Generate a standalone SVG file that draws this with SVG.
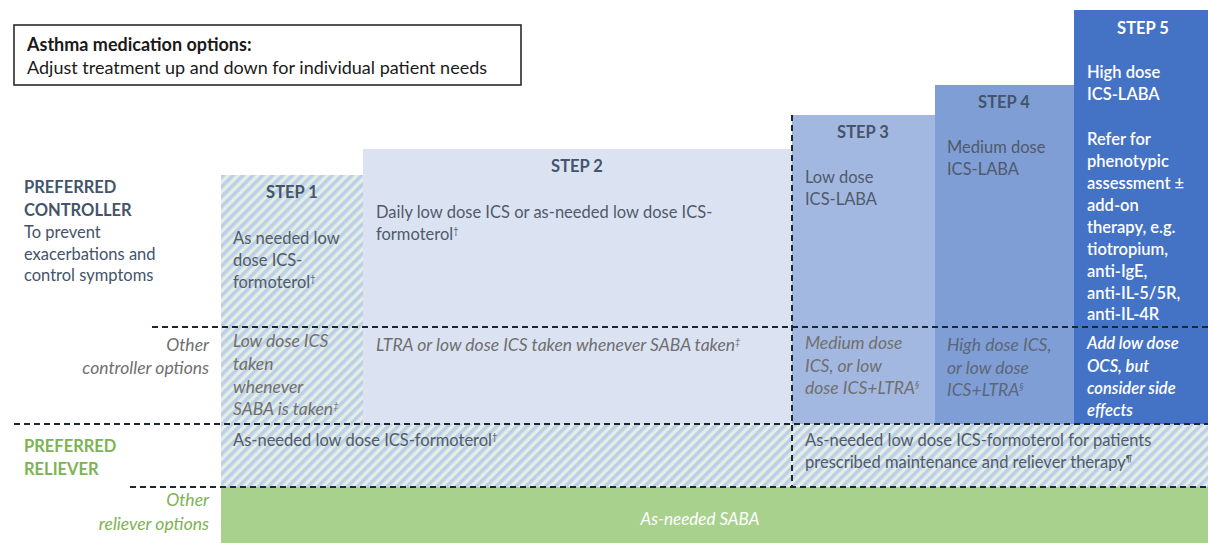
<svg xmlns="http://www.w3.org/2000/svg" width="1208" height="543" viewBox="0 0 1208 543">
<defs>
<pattern id="hatch" width="7" height="7" patternUnits="userSpaceOnUse" patternTransform="rotate(45)">
<rect width="7" height="7" fill="#e4eee2"/>
<rect width="3.6" height="7" fill="#bccfea"/>
</pattern>
</defs>
<style>
text{font-family:Lato,"Liberation Sans",sans-serif;font-size:16.5px;fill:#505a6a}
.b{font-weight:bold}
.h{font-weight:bold;fill:#44546a;text-anchor:middle}
.i{font-style:italic;fill:#6f6f6f;font-size:17.5px}
.n{fill:#44546a}
.w{fill:#ffffff;font-weight:600}
.g{fill:#7cb354;font-weight:bold}
.gi{fill:#7cb354;font-style:italic;font-size:17.5px}
.r{text-anchor:end}
.d{stroke:#1e2633;stroke-width:2;stroke-dasharray:6 4;fill:none}
</style>
<g id="title">
<rect x="14" y="25" width="507" height="60" fill="#ffffff" stroke="#2a2a2a" stroke-width="1.6"/>
<text x="27" y="51" class="b" style="fill:#1a1a1a;font-size:18px">Asthma medication options:</text>
<text x="27" y="74" style="fill:#1a1a1a;font-size:18px">Adjust treatment up and down for individual patient needs</text>
</g>
<g id="row-labels">
<text x="24" y="193" class="n b">PREFERRED</text>
<text x="24" y="216" class="n b">CONTROLLER</text>
<text x="24" y="238" class="n">To prevent</text>
<text x="24" y="260" class="n">exacerbations and</text>
<text x="24" y="281" class="n">control symptoms</text>
<text x="209" y="351" class="i r">Other</text>
<text x="209" y="374" class="i r">controller options</text>
<text x="24" y="452" class="g">PREFERRED</text>
<text x="24" y="475" class="g">RELIEVER</text>
<text x="209" y="506" class="gi r">Other</text>
<text x="209" y="530" class="gi r">reliever options</text>
</g>
<g id="step1">
<rect x="221" y="175" width="142" height="249" fill="url(#hatch)"/>
<text x="292" y="198" class="h">STEP 1</text>
<text x="233" y="244">As needed low</text>
<text x="233" y="266">dose ICS-</text>
<text x="233" y="288">formoterol<tspan font-size="9" dy="-6">†</tspan></text>
<text x="233" y="347" class="i">Low dose ICS</text>
<text x="233" y="370" class="i">taken</text>
<text x="233" y="393" class="i">whenever</text>
<text x="233" y="415" class="i">SABA is taken<tspan font-size="9" dy="-6">‡</tspan></text>
</g>
<g id="step2">
<rect x="363" y="149" width="429" height="275" fill="#dbe3f3"/>
<text x="577" y="172" class="h">STEP 2</text>
<text x="376" y="218">Daily low dose ICS or as-needed low dose ICS-</text>
<text x="376" y="240">formoterol<tspan font-size="9" dy="-6">†</tspan></text>
<text x="376" y="351" class="i">LTRA or low dose ICS taken whenever SABA taken<tspan font-size="9" dy="-6">‡</tspan></text>
</g>
<g id="step3">
<rect x="792" y="115" width="143" height="309" fill="#a3b8e0"/>
<text x="863" y="138" class="h">STEP 3</text>
<text x="805" y="183">Low dose</text>
<text x="805" y="205">ICS-LABA</text>
<text x="805" y="349" class="i">Medium dose</text>
<text x="805" y="372" class="i">ICS, or low</text>
<text x="805" y="394" class="i">dose ICS+LTRA<tspan font-size="9" dy="-6">§</tspan></text>
</g>
<g id="step4">
<rect x="935" y="85" width="139" height="339" fill="#7f9ed6"/>
<text x="1004" y="108" class="h">STEP 4</text>
<text x="947" y="153">Medium dose</text>
<text x="947" y="175">ICS-LABA</text>
<text x="947" y="351" class="i" style="fill:#5d6677">High dose ICS,</text>
<text x="947" y="374" class="i" style="fill:#5d6677">or low dose</text>
<text x="947" y="396" class="i" style="fill:#5d6677">ICS+LTRA<tspan font-size="9" dy="-6">§</tspan></text>
</g>
<g id="step5">
<rect x="1074" y="10" width="134" height="414" fill="#4472c4"/>
<text x="1143" y="34" class="h" style="fill:#ffffff">STEP 5</text>
<text x="1087" y="78" class="w">High dose</text>
<text x="1087" y="100" class="w">ICS-LABA</text>
<text x="1087" y="145" class="w">Refer for</text>
<text x="1087" y="167" class="w">phenotypic</text>
<text x="1087" y="189" class="w">assessment ±</text>
<text x="1087" y="211" class="w">add-on</text>
<text x="1087" y="233" class="w">therapy, e.g.</text>
<text x="1087" y="255" class="w">tiotropium,</text>
<text x="1087" y="277" class="w">anti-IgE,</text>
<text x="1087" y="299" class="w">anti-IL-5/5R,</text>
<text x="1087" y="320" class="w">anti-IL-4R</text>
<text x="1087" y="349" class="w" font-style="italic">Add low dose</text>
<text x="1087" y="372" class="w" font-style="italic">OCS, but</text>
<text x="1087" y="394" class="w" font-style="italic">consider side</text>
<text x="1087" y="416" class="w" font-style="italic">effects</text>
</g>
<g id="reliever">
<rect x="221" y="424" width="987" height="63" fill="url(#hatch)"/>
<text x="233" y="446">As-needed low dose ICS-formoterol<tspan font-size="9" dy="-6">†</tspan></text>
<text x="805" y="446">As-needed low dose ICS-formoterol for patients</text>
<text x="805" y="468">prescribed maintenance and reliever therapy<tspan font-size="9" dy="-6">¶</tspan></text>
</g>
<g id="other-reliever">
<rect x="221" y="487" width="987" height="56" fill="#a9d18e"/>
<text x="700" y="525" style="fill:#ffffff;font-style:italic;font-size:17px" text-anchor="middle">As-needed SABA</text>
</g>
<g id="connectors">
<line x1="152" y1="327" x2="1208" y2="327" class="d"/>
<line x1="14" y1="424" x2="1208" y2="424" class="d"/>
<line x1="130" y1="487" x2="1208" y2="487" class="d"/>
<line x1="792" y1="115" x2="792" y2="487" class="d"/>
</g>
</svg>
